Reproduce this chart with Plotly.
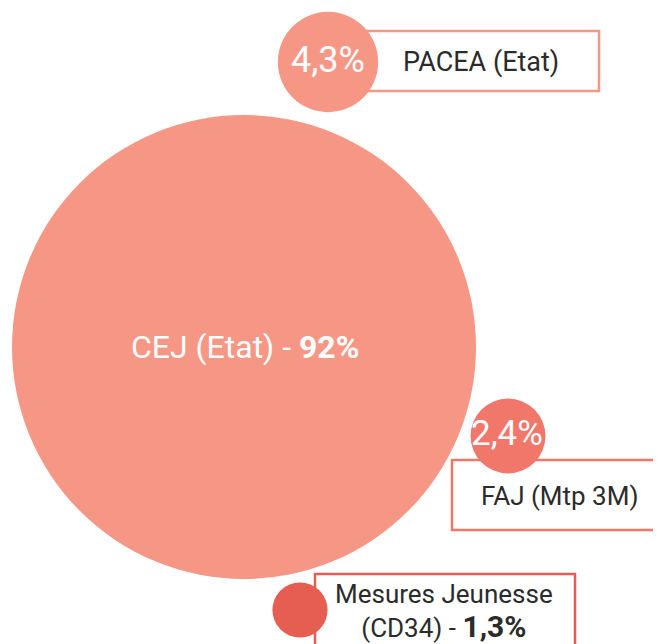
import math
import plotly.graph_objects as go

# ---- data ----
categories = ["CEJ (Etat)", "PACEA (Etat)", "FAJ (Mtp 3M)", "Mesures Jeunesse (CD34)"]
shares = [92, 4.3, 2.4, 1.3]

# ---- layout (pixel-like coordinates) ----
W, H = 661, 644
OFF = 8  # page body margin
centers_x = [244, 328, 508, 300]
centers_y = [347, 62, 436, 610]
colors = ["#F69786", "#F69786", "#F1776B", "#E65E51"]
REF_DIAM = 464  # diameter of the largest bubble in px
FONT = "Roboto, Liberation Sans, sans-serif"
TXT = "#2b2b2b"

def fmt(v):
    s = f"{v:.1f}".rstrip("0").rstrip(".")
    return s.replace(".", ",") + "%"

diams = [REF_DIAM * math.sqrt(v / max(shares)) for v in shares]

fig = go.Figure()
fig.add_trace(go.Scatter(
    x=centers_x, y=centers_y, mode="markers",
    marker=dict(size=diams, color=colors, line=dict(width=0), opacity=1),
    hoverinfo="text", text=[f"{c}: {fmt(v)}" for c, v in zip(categories, shares)],
    showlegend=False,
))

# label boxes (drawn below the bubbles)
boxes = [
    (360, 31, 599, 91, colors[1]),
    (452, 460, 675, 530, colors[2]),
    (315, 574, 575, 660, colors[3]),
]
for x0, y0, x1, y1, c in boxes:
    fig.add_shape(type="rect", x0=x0, y0=y0, x1=x1, y1=y1, layer="below",
                  line=dict(color=c, width=2.5), fillcolor="white")

ann = []
# CEJ inside big bubble
ann.append(dict(x=245, y=347, text=f"{categories[0]} - <b>{fmt(shares[0])}</b>",
                font=dict(size=32, color="white", family=FONT)))
# PACEA
ann.append(dict(x=328, y=60, text=fmt(shares[1]), font=dict(size=36, color="white", family=FONT)))
ann.append(dict(x=481, y=62, text=categories[1], font=dict(size=27, color=TXT, family=FONT)))
# FAJ
ann.append(dict(x=507, y=433, text=fmt(shares[2]), font=dict(size=35, color="white", family=FONT)))
ann.append(dict(x=560, y=496, text=categories[2], font=dict(size=26, color=TXT, family=FONT)))
# Mesures Jeunesse
ann.append(dict(x=444, y=611,
                text=f"Mesures Jeunesse<br>(CD34) - <b><span style='font-size:30px'>{fmt(shares[3])}</span></b>",
                font=dict(size=26, color=TXT, family=FONT)))
for a in ann:
    a.update(xref="x", yref="y", showarrow=False, xanchor="center", yanchor="middle")

fig.update_layout(
    width=W, height=H,
    margin=dict(l=0, r=0, t=0, b=0),
    paper_bgcolor="white", plot_bgcolor="white",
    xaxis=dict(range=[OFF, W + OFF], visible=False, fixedrange=True),
    yaxis=dict(range=[H + OFF, OFF], visible=False, fixedrange=True),
    annotations=ann,
)
fig.write_html("out.html")
